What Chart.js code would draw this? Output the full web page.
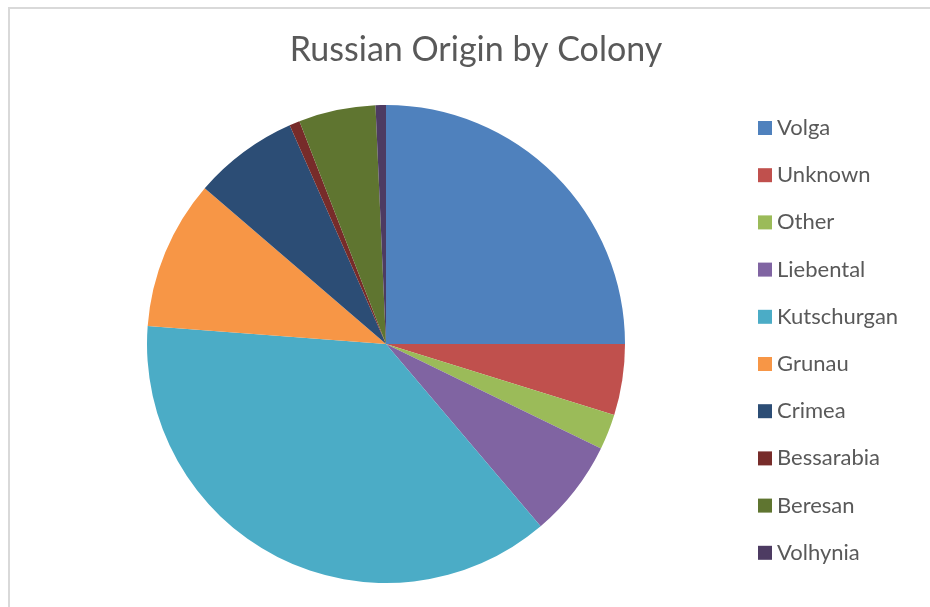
<!DOCTYPE html>
<html>
<head>
<meta charset="utf-8">
<script src="https://cdn.jsdelivr.net/npm/chart.js@4/dist/chart.umd.min.js"></script>
<style>
    html, body { margin: 0; padding: 0; background: #fff; overflow: hidden; }
    #wrap { position: relative; width: 930px; height: 607px; }
    #frame { position: absolute; left: 8px; top: 7px; width: 1000px; height: 700px; border: 2px solid #d9d9d9; box-sizing: border-box; }
    canvas { position: absolute; left: 0; top: 0; }
</style>
</head>
<body>
<div id="wrap">
    <div id="frame"></div>
    <canvas id="chart" width="930" height="607"></canvas>
</div>
<script>
// Chart data
const chartTitle = 'Russian Origin by Colony';
const colonies = ['Volga', 'Unknown', 'Other', 'Liebental', 'Kutschurgan', 'Grunau', 'Crimea', 'Bessarabia', 'Beresan', 'Volhynia'];
const shares = [25.0, 4.8, 2.4, 6.6, 37.4, 10.1, 7.1, 0.7, 5.2, 0.7];
const sliceColors = ['#4f81bd', '#c0504d', '#9bbb59', '#8064a2', '#4bacc6', '#f79646', '#2c4d75', '#772c2a', '#5f7530', '#4d3b62'];

const textColor = '#595959';
const fontFamily = 'Lato, "Open Sans", sans-serif';

// Title and legend drawn in the Excel layout
const excelLook = {
    id: 'excelLook',
    afterDraw(chart) {
        const ctx = chart.ctx;
        ctx.save();
        ctx.fillStyle = textColor;
        ctx.textBaseline = 'middle';
        ctx.textAlign = 'center';
        ctx.font = '34px ' + fontFamily;
        ctx.fillText(chartTitle, 476, 50);

        ctx.textAlign = 'left';
        ctx.font = '22px ' + fontFamily;
        const labels = chart.data.labels;
        const colors = chart.data.datasets[0].backgroundColor;
        for (let i = 0; i < labels.length; i++) {
            const y = 128 + i * 47.2;
            ctx.fillStyle = colors[i];
            ctx.fillRect(758, y - 7, 14, 14);
            ctx.fillStyle = textColor;
            ctx.fillText(labels[i], 777, y);
        }
        ctx.restore();
    }
};

new Chart(document.getElementById('chart'), {
    type: 'pie',
    data: {
        labels: colonies,
        datasets: [{
            data: shares,
            backgroundColor: sliceColors,
            borderWidth: 0
        }]
    },
    options: {
        responsive: false,
        animation: false,
        layout: { padding: { top: 105, bottom: 24, left: 147, right: 305 } },
        plugins: {
            legend: { display: false },
            title: { display: false },
            tooltip: { enabled: false }
        }
    },
    plugins: [excelLook]
});
</script>
</body>
</html>
